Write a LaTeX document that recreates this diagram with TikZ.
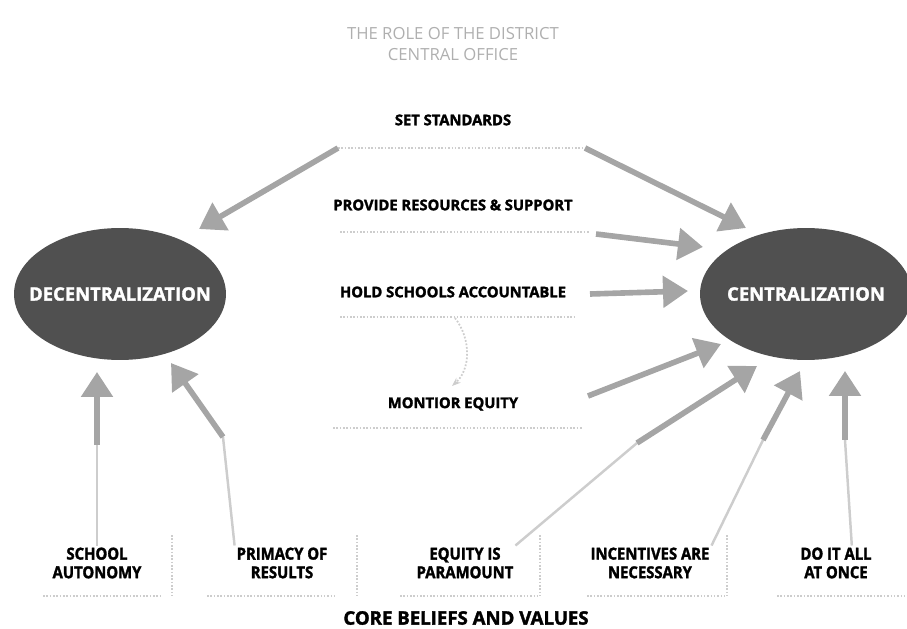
\documentclass[tikz,border=0pt]{standalone}
\usepackage{fontspec}
\setsansfont{Open Sans}[BoldFeatures={FakeBold=1.8}]
\newfontfamily\narrowfont{Open Sans}[FakeStretch=0.9, BoldFeatures={FakeBold=1.8}]
\usepackage{tikz}
\usetikzlibrary{arrows.meta, shapes.geometric}
\definecolor{hubgray}{RGB}{80, 80, 80}
\definecolor{pushgray}{RGB}{165, 165, 165}
\definecolor{fadegray}{RGB}{205, 205, 205}
\definecolor{titlegray}{RGB}{175, 175, 175}

\begin{document}
\begin{tikzpicture}[
  x=0.02cm, y=-0.02cm,
  hub/.style={
    ellipse, fill=hubgray, inner sep=0pt,
    minimum width=4.24cm, minimum height=2.64cm
  },
  hubtext/.style={text=white, font=\fontsize{10.5}{12}\selectfont\sffamily\bfseries},
  role/.style={font=\fontsize{8.4}{10}\selectfont\sffamily\bfseries, inner sep=1pt},
  belief/.style={font=\fontsize{9.4}{10.6}\selectfont\narrowfont\bfseries, align=center, inner sep=1pt},
  rule/.style={draw=fadegray, densely dotted, line width=0.9pt},
  push/.style={draw=pushgray, line width=3.2pt, -{Triangle[width=0.62cm, length=0.5cm]}},
  trail/.style={draw=fadegray, line width=1.4pt},
  hint/.style={draw=fadegray, densely dotted, line width=1pt, -{Stealth[length=5pt]}},
]

\useasboundingbox (0,0) rectangle (907,629);

\def\colA{97}
\def\colB{282}
\def\colC{465}
\def\colD{650}
\def\colE{836}
\def\mid{453}

\node[font=\fontsize{9.5}{11.5}\selectfont\sffamily, text=titlegray, align=center]
  (title) at (\mid, 44) {THE ROLE OF THE DISTRICT\\CENTRAL OFFICE};

\node[hub] (decent) at (120, 294) {};
\node[hub] (cent)   at (806, 294) {};
\node[hubtext] (decentT) at (decent) {DECENTRALIZATION};
\node[hubtext] (centT)   at (cent)   {CENTRALIZATION};

\node[role] (standards) at (\mid, 120) {SET STANDARDS};
\node[role] (resources) at (\mid, 205) {PROVIDE RESOURCES \& SUPPORT};
\node[role] (account)   at (\mid, 292) {HOLD SCHOOLS ACCOUNTABLE};
\node[role] (equity)    at (\mid, 404) {MONTIOR EQUITY};

% arrow ends
\coordinate (stdL)  at (338, 148);
\coordinate (stdR)  at (585, 148);
\coordinate (tipL)  at (199, 229);
\coordinate (tipR)  at (746, 228);
\coordinate (resR)  at (596, 234);
\coordinate (tipRes) at (703, 247);
\coordinate (accR)  at (590, 294);
\coordinate (tipAcc) at (688, 291);
\coordinate (accD)  at (455, 318);
\coordinate (eqT)   at (452, 386);
\coordinate (equR)  at (588, 396);
\coordinate (tipEqu) at (721, 344);

% 1. set standards, to both sides
\draw[rule] (stdL) -- (stdR);
\draw[push] (stdL) -- (tipL);
\draw[push] (stdR) -- (tipR);

% 2. resources and support
\draw[rule] (340, 232) -- (590, 232);
\draw[push] (resR) -- (tipRes);

% 3. accountability
\draw[rule] (340, 317) -- (577, 317);
\draw[push] (accR) -- (tipAcc);
\draw[hint] (accD) .. controls (472, 340) and (470, 370) .. (eqT);

% 4. equity
\draw[rule] (333, 428) -- (583, 428);
\draw[push] (equR) -- (tipEqu);

% core beliefs
\node[belief] (autonomy)   at (\colA, 563) {SCHOOL\\AUTONOMY};
\node[belief] (primacy)    at (\colB, 563) {PRIMACY OF\\RESULTS};
\node[belief] (paramount)  at (\colC, 563) {EQUITY IS\\PARAMOUNT};
\node[belief] (incentives) at (\colD, 563) {INCENTIVES ARE\\NECESSARY};
\node[belief] (atonce)     at (\colE, 563) {DO IT ALL\\AT ONCE};
\node[font=\fontsize{10.6}{12}\selectfont\sffamily\bfseries] (core) at (466, 618) {CORE BELIEFS AND VALUES};

\draw[rule] (43, 596) -- (160, 596);
\draw[rule] (207, 596) -- (337, 596);
\draw[rule] (400, 596) -- (540, 596);
\draw[rule] (587, 596) -- (727, 596);
\draw[rule] (777, 596) -- (907, 596);
\foreach \x in {172, 357, 540, 727}
  \draw[rule] (\x, 535) -- (\x, 596);

% belief arrows
\coordinate (midA) at (97, 445);
\coordinate (tipA) at (97, 372);
\coordinate (midB) at (223, 437);
\coordinate (tipB) at (171, 363);
\coordinate (midC) at (637, 443);
\coordinate (tipC) at (757, 366);
\coordinate (midD) at (763, 440);
\coordinate (tipD) at (800, 371);
\coordinate (midE) at (845, 440);
\coordinate (tipE) at (845, 371);

\draw[trail] (autonomy.north) -- (midA);
\draw[push]  (midA) -- (tipA);
\draw[trail] (primacy.north west) -- (midB);
\draw[push]  (midB) -- (tipB);
\draw[trail] (paramount.north east) -- (midC);
\draw[push]  (midC) -- (tipC);
\draw[trail] (incentives.north east) -- (midD);
\draw[push]  (midD) -- (tipD);
\draw[trail] ([xshift=9]atonce.north) -- (midE);
\draw[push]  (midE) -- (tipE);

\end{tikzpicture}
\end{document}
